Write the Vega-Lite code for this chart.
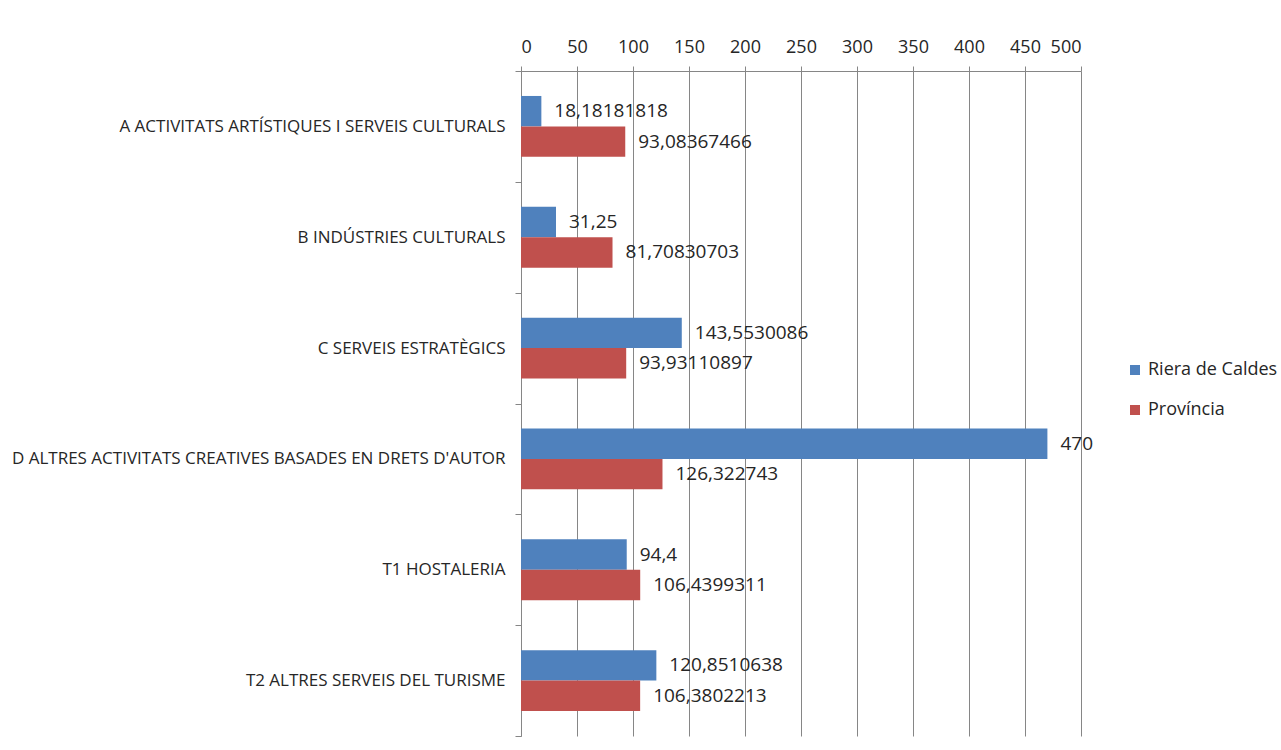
{
  "$schema": "https://vega.github.io/schema/vega-lite/v6.json",
  "autosize": {"type": "none"},
  "width": 560,
  "height": 665,
  "padding": {"left": 521, "top": 71, "right": 200, "bottom": 14},
  "background": "white",
  "config": {
    "font": "Open Sans",
    "view": {"stroke": null}
  },
  "data": {
    "values": [
      {"cat": "A ACTIVITATS ARTÍSTIQUES I SERVEIS CULTURALS", "series": "Riera de Caldes", "v": 18.18181818, "label": "18,18181818"},
      {"cat": "A ACTIVITATS ARTÍSTIQUES I SERVEIS CULTURALS", "series": "Província", "v": 93.08367466, "label": "93,08367466"},
      {"cat": "B INDÚSTRIES CULTURALS", "series": "Riera de Caldes", "v": 31.25, "label": "31,25"},
      {"cat": "B INDÚSTRIES CULTURALS", "series": "Província", "v": 81.70830703, "label": "81,70830703"},
      {"cat": "C SERVEIS ESTRATÈGICS", "series": "Riera de Caldes", "v": 143.5530086, "label": "143,5530086"},
      {"cat": "C SERVEIS ESTRATÈGICS", "series": "Província", "v": 93.93110897, "label": "93,93110897"},
      {"cat": "D ALTRES ACTIVITATS CREATIVES BASADES EN DRETS D'AUTOR", "series": "Riera de Caldes", "v": 470, "label": "470"},
      {"cat": "D ALTRES ACTIVITATS CREATIVES BASADES EN DRETS D'AUTOR", "series": "Província", "v": 126.322743, "label": "126,322743"},
      {"cat": "T1 HOSTALERIA", "series": "Riera de Caldes", "v": 94.4, "label": "94,4"},
      {"cat": "T1 HOSTALERIA", "series": "Província", "v": 106.4399311, "label": "106,4399311"},
      {"cat": "T2 ALTRES SERVEIS DEL TURISME", "series": "Riera de Caldes", "v": 120.8510638, "label": "120,8510638"},
      {"cat": "T2 ALTRES SERVEIS DEL TURISME", "series": "Província", "v": 106.3802213, "label": "106,3802213"}
    ]
  },
  "encoding": {
    "y": {
      "field": "cat",
      "type": "nominal",
      "sort": null,
      "scale": {"paddingInner": 0, "paddingOuter": 0},
      "axis": {
        "title": null,
        "orient": "left",
        "domainColor": "#868686",
        "tickColor": "#868686",
        "tickBand": "extent",
        "tickSize": 6,
        "labelPadding": 10,
        "labelFontSize": 17,
        "labelColor": "#262626",
        "labelLimit": 600
      }
    },
    "yOffset": {
      "field": "series",
      "type": "nominal",
      "sort": "descending",
      "scale": {"paddingInner": 0, "paddingOuter": 0.82}
    },
    "x": {
      "field": "v",
      "type": "quantitative",
      "scale": {"domain": [0, 500], "nice": false},
      "axis": {
        "title": null,
        "orient": "top",
        "values": [0, 50, 100, 150, 200, 250, 300, 350, 400, 450, 500],
        "grid": true,
        "gridColor": "#868686",
        "gridOpacity": 1,
        "domainColor": "#868686",
        "tickColor": "#868686",
        "tickSize": 5,
        "labelPadding": 10,
        "labelFontSize": 18,
        "labelColor": "#262626"
      }
    }
  },
  "layer": [
    {
      "mark": {"type": "bar"},
      "encoding": {
        "color": {
          "field": "series",
          "type": "nominal",
          "sort": "descending",
          "scale": {"range": ["#4F81BD", "#C0504D"]},
          "legend": {
            "title": null,
            "orient": "none",
            "legendX": 605,
            "legendY": 290,
            "symbolType": "square",
            "symbolSize": 100,
            "labelFontSize": 18,
            "labelColor": "#262626",
            "rowPadding": 22,
            "labelLimit": 300
          }
        }
      }
    },
    {
      "mark": {"type": "text", "align": "left", "baseline": "middle", "dx": 13, "fontSize": 19, "color": "#262626"},
      "encoding": {
        "text": {"field": "label"}
      }
    }
  ]
}
